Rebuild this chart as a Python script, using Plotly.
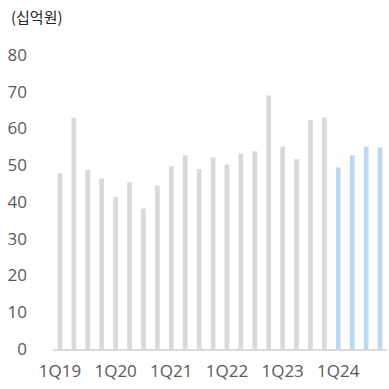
import plotly.graph_objects as go

# Quarterly figures, 1Q19 through 4Q24 (unit: 십억원)
quarters = [f"{q}Q{y}" for y in range(19, 25) for q in range(1, 5)]
actual_values = [47.8, 62.9, 48.7, 46.4, 41.4, 45.3, 38.2, 44.5,
                 49.7, 52.7, 49.0, 52.1, 50.2, 53.2, 53.8, 69.0,
                 55.1, 51.6, 62.4, 63.0]
latest_values = [49.4, 52.7, 55.1, 54.8]
tick_labels = ["1Q19", "1Q20", "1Q21", "1Q22", "1Q23", "1Q24"]
y_ticks = [0, 10, 20, 30, 40, 50, 60, 70, 80]

n_actual = len(actual_values)

fig = go.Figure()
fig.add_trace(go.Bar(
    x=quarters[:n_actual], y=actual_values,
    marker=dict(color="#d9d9d9", line=dict(width=0)),
    hoverinfo="x+y",
))
fig.add_trace(go.Bar(
    x=quarters[n_actual:], y=latest_values,
    marker=dict(color="#bdd7ee", line=dict(width=0)),
    hoverinfo="x+y",
))

text_color = "#595959"
font_family = "Open Sans, Noto Sans CJK KR, sans-serif"

fig.update_layout(
    width=389, height=389,
    margin=dict(l=53, r=2, t=55, b=40),
    paper_bgcolor="white", plot_bgcolor="white",
    showlegend=False,
    bargap=0.66,
    barmode="group",
    font=dict(family=font_family, size=17, color=text_color),
    title=dict(
        text="(십억원)",
        xref="container", yref="container",
        x=11 / 389, xanchor="left",
        y=1 - 18 / 389, yanchor="middle",
        font=dict(family="Noto Sans CJK KR, sans-serif", size=15, color="#262626"),
    ),
    xaxis=dict(
        type="category",
        categoryorder="array", categoryarray=quarters,
        tickmode="array", tickvals=tick_labels, ticktext=tick_labels,
        showgrid=False, zeroline=False,
        showline=True, linecolor="#d9d9d9", linewidth=2,
        ticks="", tickangle=0,
        tickfont=dict(size=17, color=text_color),
        ticklabelstandoff=6,
        range=[-0.5, len(quarters) - 0.5],
    ),
    yaxis=dict(
        range=[0, 80],
        tickmode="array", tickvals=y_ticks,
        showgrid=False, zeroline=False, showline=False,
        ticks="",
        tickfont=dict(size=17, color=text_color),
        ticklabelstandoff=25,
    ),
)

fig.write_html("out.html")
